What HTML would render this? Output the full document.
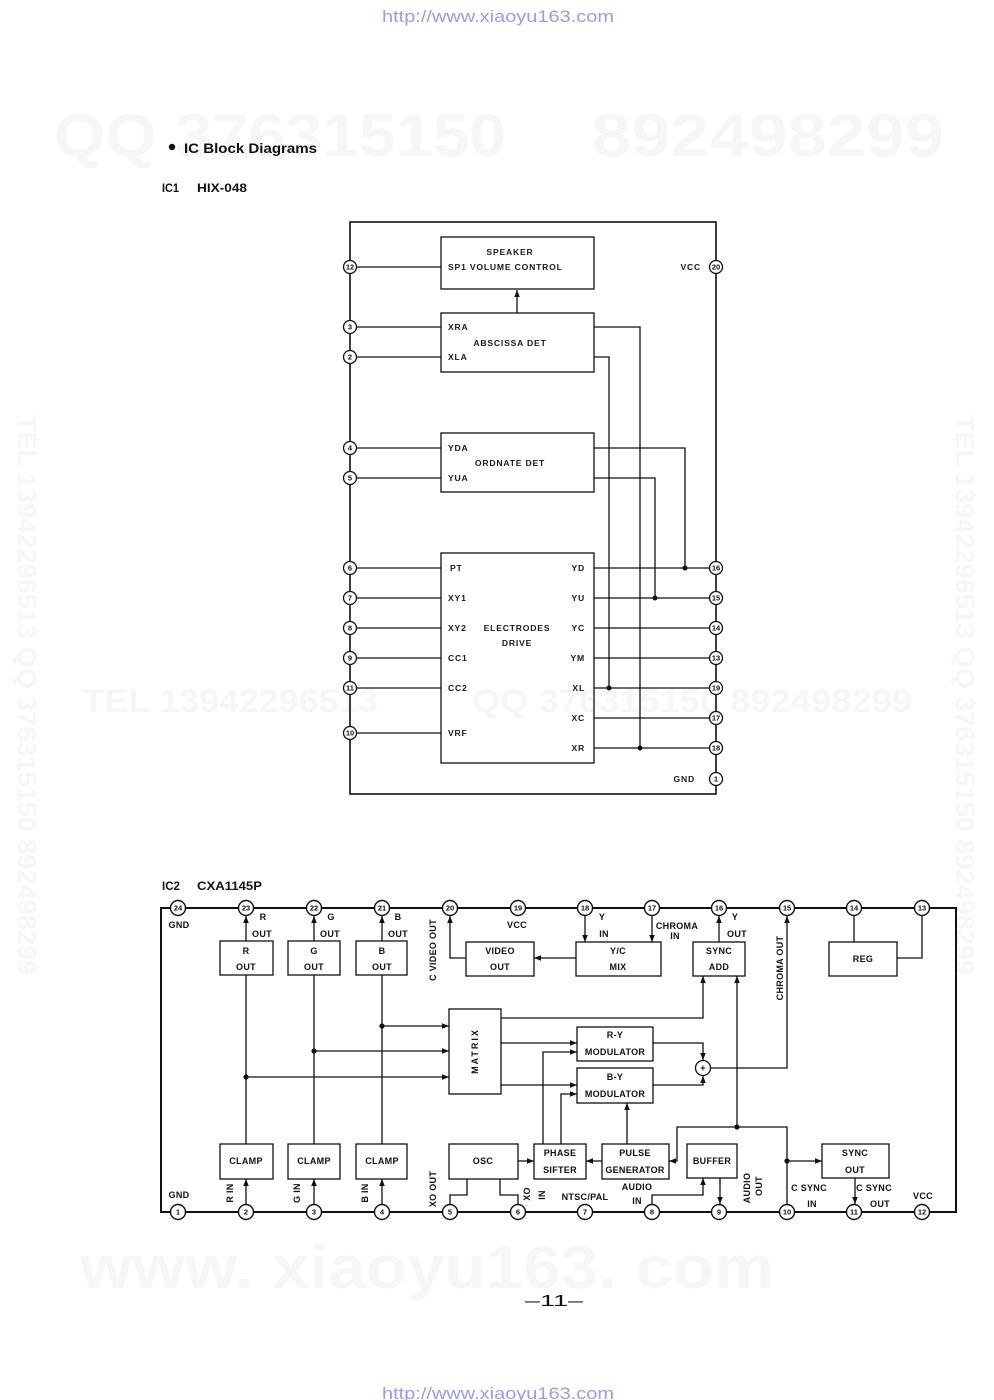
<!DOCTYPE html>
<html><head><meta charset="utf-8"><style>
html,body{margin:0;padding:0;background:#fff;}
body{width:994px;height:1400px;overflow:hidden;position:relative;}
svg{position:absolute;left:0;top:0;}
.f{font-family:"Liberation Sans",sans-serif;}
.a{font-family:"Liberation Sans",sans-serif;font-size:8.6px;font-weight:bold;fill:#1a1a1a;letter-spacing:0.8px;}
.b{font-family:"Liberation Sans",sans-serif;font-size:9px;font-weight:bold;fill:#111;letter-spacing:0.3px;}
.pn{font-family:"Liberation Sans",sans-serif;font-size:7.5px;font-weight:bold;fill:#111;}
.wm{font-family:"Liberation Sans",sans-serif;font-weight:bold;fill:#f6f6f6;}
</style></head><body>
<svg width="994" height="1400" viewBox="0 0 994 1400" xmlns="http://www.w3.org/2000/svg">
<defs>
<marker id="ar" viewBox="0 0 10 10" refX="10" refY="5" markerWidth="7" markerHeight="7" markerUnits="userSpaceOnUse" orient="auto"><path d="M0,1 L10,5 L0,9z" fill="#111"/></marker>
</defs>

<!-- watermarks -->
<text class="wm" x="54" y="156" font-size="60" textLength="452" lengthAdjust="spacingAndGlyphs">QQ 376315150</text>
<text class="wm" x="592" y="156" font-size="60" textLength="352" lengthAdjust="spacingAndGlyphs">892498299</text>
<text class="wm" x="83" y="712" font-size="32" textLength="295" lengthAdjust="spacingAndGlyphs">TEL 13942296513</text>
<text class="wm" x="472" y="712" font-size="32" textLength="440" lengthAdjust="spacingAndGlyphs">QQ 376315150 892498299</text>
<text class="wm" x="80" y="1288" font-size="60" textLength="694" lengthAdjust="spacingAndGlyphs">www. xiaoyu163. com</text>
<text class="wm" transform="translate(18,415) rotate(90)" font-size="26" textLength="560" lengthAdjust="spacingAndGlyphs">TEL 13942296513 QQ 376315150 892498299</text>
<text class="wm" transform="translate(956,415) rotate(90)" font-size="26" textLength="560" lengthAdjust="spacingAndGlyphs">TEL 13942296513 QQ 376315150 892498299</text>

<!-- header/footer -->
<text class="f" x="382" y="22" font-size="17" fill="#9a9af0" textLength="232" lengthAdjust="spacingAndGlyphs">http://www.xiaoyu163.com</text>
<text class="f" x="382" y="1399" font-size="17" fill="#9a9af0" textLength="232" lengthAdjust="spacingAndGlyphs">http://www.xiaoyu163.com</text>
<text class="f" x="525" y="1306" font-size="16" fill="#111" textLength="58" lengthAdjust="spacingAndGlyphs">–11–</text>
<circle cx="172" cy="147" r="3.2" fill="#111"/>
<text class="f" x="184" y="153" font-size="14" font-weight="bold" fill="#111" textLength="133" lengthAdjust="spacingAndGlyphs">IC Block Diagrams</text>
<text class="f" x="162" y="192" font-size="12" font-weight="bold" fill="#111" textLength="17" lengthAdjust="spacingAndGlyphs">IC1</text>
<text class="f" x="197" y="192" font-size="12" font-weight="bold" fill="#111" textLength="50" lengthAdjust="spacingAndGlyphs">HIX-048</text>
<text class="f" x="162" y="890" font-size="12" font-weight="bold" fill="#111" textLength="18" lengthAdjust="spacingAndGlyphs">IC2</text>
<text class="f" x="197" y="890" font-size="12" font-weight="bold" fill="#111" textLength="65" lengthAdjust="spacingAndGlyphs">CXA1145P</text>

<!-- ================= IC1 ================= -->
<g stroke="#111" stroke-width="1.3" fill="none">
<rect x="350" y="222" width="366" height="572" stroke-width="1.6"/>
<rect x="441" y="237" width="153" height="52"/>
<rect x="441" y="313" width="153" height="59"/>
<rect x="441" y="433" width="153" height="59"/>
<rect x="441" y="553" width="153" height="210"/>
<line x1="517" y1="313" x2="517" y2="290" marker-end="url(#ar)"/>
<path d="M350 267H441M350 327H441M350 357H441M350 448H441M350 478H441M350 568H441M350 598H441M350 628H441M350 658H441M350 688H441M350 733H441"/>
<path d="M594 568H716M594 598H716M594 628H716M594 658H716M594 688H716M594 718H716M594 748H716"/>
<path d="M594 327H640V748M594 357H609V688M594 448H685V568M594 478H655V598"/>
</g>
<g fill="#111">
<circle cx="640" cy="748" r="2.5"/><circle cx="609" cy="688" r="2.5"/><circle cx="685" cy="568" r="2.5"/><circle cx="655" cy="598" r="2.5"/>
</g>
<g stroke="#111" stroke-width="1.3" fill="#fff">
<circle cx="350" cy="267" r="6.5"/><circle cx="350" cy="327" r="6.5"/><circle cx="350" cy="357" r="6.5"/><circle cx="350" cy="448" r="6.5"/><circle cx="350" cy="478" r="6.5"/><circle cx="350" cy="568" r="6.5"/><circle cx="350" cy="598" r="6.5"/><circle cx="350" cy="628" r="6.5"/><circle cx="350" cy="658" r="6.5"/><circle cx="350" cy="688" r="6.5"/><circle cx="350" cy="733" r="6.5"/>
<circle cx="716" cy="267" r="6.5"/><circle cx="716" cy="568" r="6.5"/><circle cx="716" cy="598" r="6.5"/><circle cx="716" cy="628" r="6.5"/><circle cx="716" cy="658" r="6.5"/><circle cx="716" cy="688" r="6.5"/><circle cx="716" cy="718" r="6.5"/><circle cx="716" cy="748" r="6.5"/><circle cx="716" cy="779" r="6.5"/>
</g>
<g class="pn" text-anchor="middle" dominant-baseline="central">
<text x="350" y="267">12</text><text x="350" y="327">3</text><text x="350" y="357">2</text><text x="350" y="448">4</text><text x="350" y="478">5</text><text x="350" y="568">6</text><text x="350" y="598">7</text><text x="350" y="628">8</text><text x="350" y="658">9</text><text x="350" y="688">11</text><text x="350" y="733">10</text>
<text x="716" y="267">20</text><text x="716" y="568">16</text><text x="716" y="598">15</text><text x="716" y="628">14</text><text x="716" y="658">13</text><text x="716" y="688">19</text><text x="716" y="718">17</text><text x="716" y="748">18</text><text x="716" y="779">1</text>
</g>
<g class="a" dominant-baseline="central">
<text x="510" y="252" text-anchor="middle">SPEAKER</text>
<text x="448" y="267">SP1  VOLUME CONTROL</text>
<text x="448" y="327">XRA</text><text x="448" y="357">XLA</text>
<text x="510" y="343" text-anchor="middle">ABSCISSA DET</text>
<text x="448" y="448">YDA</text><text x="448" y="478">YUA</text>
<text x="510" y="463" text-anchor="middle">ORDNATE DET</text>
<text x="450" y="568">PT</text><text x="448" y="598">XY1</text><text x="448" y="628">XY2</text><text x="448" y="658">CC1</text><text x="448" y="688">CC2</text><text x="448" y="733">VRF</text>
<text x="585" y="568" text-anchor="end">YD</text><text x="585" y="598" text-anchor="end">YU</text><text x="585" y="628" text-anchor="end">YC</text><text x="585" y="658" text-anchor="end">YM</text><text x="585" y="688" text-anchor="end">XL</text><text x="585" y="718" text-anchor="end">XC</text><text x="585" y="748" text-anchor="end">XR</text>
<text x="517" y="628" text-anchor="middle">ELECTRODES</text>
<text x="517" y="643" text-anchor="middle">DRIVE</text>
<text x="701" y="267" text-anchor="end">VCC</text>
<text x="695" y="779" text-anchor="end">GND</text>
</g>

<!-- ================= IC2 ================= -->
<g stroke="#111" stroke-width="2" fill="none">
<rect x="161" y="908" width="795" height="304"/>
</g>
<g stroke="#111" stroke-width="1.3" fill="#fff">
<rect x="220" y="941" width="53" height="34"/>
<rect x="288" y="941" width="52" height="34"/>
<rect x="356" y="941" width="51" height="34"/>
<rect x="466" y="942" width="68" height="34"/>
<rect x="576" y="942" width="85" height="34"/>
<rect x="693" y="942" width="52" height="34"/>
<rect x="829" y="942" width="68" height="34"/>
<rect x="449" y="1009" width="52" height="85"/>
<rect x="577" y="1027" width="76" height="34"/>
<rect x="577" y="1068" width="76" height="35"/>
<rect x="220" y="1144" width="53" height="35"/>
<rect x="288" y="1144" width="52" height="35"/>
<rect x="356" y="1144" width="51" height="35"/>
<rect x="449" y="1144" width="69" height="35"/>
<rect x="534" y="1144" width="52" height="35"/>
<rect x="602" y="1144" width="67" height="35"/>
<rect x="687" y="1144" width="50" height="34"/>
<rect x="822" y="1144" width="67" height="34"/>
</g>
<g stroke="#111" stroke-width="1.3" fill="none">
<line x1="246" y1="941" x2="246" y2="916" marker-end="url(#ar)"/>
<line x1="314" y1="941" x2="314" y2="916" marker-end="url(#ar)"/>
<line x1="382" y1="941" x2="382" y2="916" marker-end="url(#ar)"/>
<path d="M246 975V1144M314 975V1144M382 975V1144"/>
<line x1="246" y1="1204" x2="246" y2="1179" marker-end="url(#ar)"/>
<line x1="314" y1="1204" x2="314" y2="1179" marker-end="url(#ar)"/>
<line x1="382" y1="1204" x2="382" y2="1179" marker-end="url(#ar)"/>
<line x1="382" y1="1026" x2="449" y2="1026" marker-end="url(#ar)"/>
<line x1="314" y1="1051" x2="449" y2="1051" marker-end="url(#ar)"/>
<line x1="246" y1="1077" x2="449" y2="1077" marker-end="url(#ar)"/>
<path d="M466 958H450V916" marker-end="url(#ar)"/>
<line x1="576" y1="958" x2="534" y2="958" marker-end="url(#ar)"/>
<line x1="585" y1="916" x2="585" y2="942" marker-end="url(#ar)"/>
<line x1="652" y1="916" x2="652" y2="942" marker-end="url(#ar)"/>
<line x1="719" y1="942" x2="719" y2="916" marker-end="url(#ar)"/>
<path d="M501 1018H703V976" marker-end="url(#ar)"/>
<line x1="501" y1="1043" x2="577" y2="1043" marker-end="url(#ar)"/>
<line x1="501" y1="1085" x2="577" y2="1085" marker-end="url(#ar)"/>
<path d="M653 1043H703V1060" marker-end="url(#ar)"/>
<path d="M653 1085H703V1076" marker-end="url(#ar)"/>
<path d="M710.5 1068H787V916" marker-end="url(#ar)"/>
<path d="M543 1144V1052H577" marker-end="url(#ar)"/>
<path d="M561 1144V1094H577" marker-end="url(#ar)"/>
<line x1="627" y1="1144" x2="627" y2="1103" marker-end="url(#ar)"/>
<line x1="518" y1="1161" x2="534" y2="1161" marker-end="url(#ar)"/>
<line x1="602" y1="1161" x2="586" y2="1161" marker-end="url(#ar)"/>
<path d="M787 1204V1127H677V1161H669" marker-end="url(#ar)"/>
<line x1="787" y1="1161" x2="822" y2="1161" marker-end="url(#ar)"/>
<line x1="737" y1="1127" x2="737" y2="976" marker-end="url(#ar)"/>
<path d="M652 1204V1195H703V1178" marker-end="url(#ar)"/>
<line x1="720" y1="1178" x2="720" y2="1204" marker-end="url(#ar)"/>
<line x1="855" y1="1178" x2="855" y2="1204" marker-end="url(#ar)"/>
<path d="M854 916V942M922 916V958H897"/>
<path d="M467 1179V1195H450V1204M500 1179V1195H518V1204"/>
</g>
<g fill="#111">
<circle cx="382" cy="1026" r="2.6"/><circle cx="314" cy="1051" r="2.6"/><circle cx="246" cy="1077" r="2.6"/>
<circle cx="737" cy="1127" r="2.6"/><circle cx="787" cy="1161" r="2.6"/>
</g>
<circle cx="703" cy="1068" r="7.5" stroke="#111" stroke-width="1.3" fill="#fff"/>
<text class="b" x="703" y="1068" text-anchor="middle" dominant-baseline="central" font-size="9">+</text>
<g stroke="#111" stroke-width="1.4" fill="#fff">
<circle cx="178" cy="908" r="7.5"/><circle cx="246" cy="908" r="7.5"/><circle cx="314" cy="908" r="7.5"/><circle cx="382" cy="908" r="7.5"/><circle cx="450" cy="908" r="7.5"/><circle cx="518" cy="908" r="7.5"/><circle cx="585" cy="908" r="7.5"/><circle cx="652" cy="908" r="7.5"/><circle cx="719" cy="908" r="7.5"/><circle cx="787" cy="908" r="7.5"/><circle cx="854" cy="908" r="7.5"/><circle cx="922" cy="908" r="7.5"/>
<circle cx="178" cy="1212" r="7.5"/><circle cx="246" cy="1212" r="7.5"/><circle cx="314" cy="1212" r="7.5"/><circle cx="382" cy="1212" r="7.5"/><circle cx="450" cy="1212" r="7.5"/><circle cx="518" cy="1212" r="7.5"/><circle cx="585" cy="1212" r="7.5"/><circle cx="652" cy="1212" r="7.5"/><circle cx="719" cy="1212" r="7.5"/><circle cx="787" cy="1212" r="7.5"/><circle cx="854" cy="1212" r="7.5"/><circle cx="922" cy="1212" r="7.5"/>
</g>
<g class="pn" text-anchor="middle" dominant-baseline="central">
<text x="178" y="908">24</text><text x="246" y="908">23</text><text x="314" y="908">22</text><text x="382" y="908">21</text><text x="450" y="908">20</text><text x="518" y="908">19</text><text x="585" y="908">18</text><text x="652" y="908">17</text><text x="719" y="908">16</text><text x="787" y="908">15</text><text x="854" y="908">14</text><text x="922" y="908">13</text>
<text x="178" y="1212">1</text><text x="246" y="1212">2</text><text x="314" y="1212">3</text><text x="382" y="1212">4</text><text x="450" y="1212">5</text><text x="518" y="1212">6</text><text x="585" y="1212">7</text><text x="652" y="1212">8</text><text x="719" y="1212">9</text><text x="787" y="1212">10</text><text x="854" y="1212">11</text><text x="922" y="1212">12</text>
</g>
<g class="b" dominant-baseline="central" text-anchor="middle">
<text x="246" y="951">R</text><text x="246" y="967">OUT</text>
<text x="314" y="951">G</text><text x="314" y="967">OUT</text>
<text x="382" y="951">B</text><text x="382" y="967">OUT</text>
<text x="500" y="951">VIDEO</text><text x="500" y="967">OUT</text>
<text x="618" y="951">Y/C</text><text x="618" y="967">MIX</text>
<text x="719" y="951">SYNC</text><text x="719" y="967">ADD</text>
<text x="863" y="959">REG</text>
<text x="615" y="1035">R-Y</text><text x="615" y="1052">MODULATOR</text>
<text x="615" y="1077">B-Y</text><text x="615" y="1094">MODULATOR</text>
<text x="246" y="1161">CLAMP</text><text x="314" y="1161">CLAMP</text><text x="382" y="1161">CLAMP</text>
<text x="483" y="1161">OSC</text>
<text x="560" y="1153">PHASE</text><text x="560" y="1170">SIFTER</text>
<text x="635" y="1153">PULSE</text><text x="635" y="1170">GENERATOR</text>
<text x="712" y="1161">BUFFER</text>
<text x="855" y="1153">SYNC</text><text x="855" y="1170">OUT</text>
<text transform="translate(475,1051) rotate(-90)" letter-spacing="2">MATRIX</text>
<text x="179" y="925">GND</text>
<text x="179" y="1195">GND</text>
<text x="263" y="917">R</text><text x="262" y="934">OUT</text>
<text x="331" y="917">G</text><text x="330" y="934">OUT</text>
<text x="398" y="917">B</text><text x="398" y="934">OUT</text>
<text x="517" y="925">VCC</text>
<text x="602" y="917">Y</text><text x="604" y="934">IN</text>
<text x="677" y="926">CHROMA</text><text x="675" y="936">IN</text>
<text x="735" y="917">Y</text><text x="737" y="934">OUT</text>
<text x="585" y="1197">NTSC/PAL</text>
<text x="637" y="1187">AUDIO</text><text x="637" y="1201">IN</text>
<text x="809" y="1188">C SYNC</text><text x="812" y="1204">IN</text>
<text x="874" y="1188">C SYNC</text><text x="880" y="1204">OUT</text>
<text x="923" y="1196">VCC</text>
<text transform="translate(433,950) rotate(-90)">C VIDEO OUT</text>
<text transform="translate(780,968) rotate(-90)">CHROMA OUT</text>
<text transform="translate(230,1193) rotate(-90)">R IN</text>
<text transform="translate(297,1193) rotate(-90)">G IN</text>
<text transform="translate(365,1193) rotate(-90)">B IN</text>
<text transform="translate(433,1189) rotate(-90)">XO OUT</text>
<text transform="translate(527,1194) rotate(-90)">XO</text>
<text transform="translate(542,1195) rotate(-90)">IN</text>
<text transform="translate(747,1188) rotate(-90)">AUDIO</text>
<text transform="translate(759,1186) rotate(-90)">OUT</text>
</g>
</svg>
</body></html>
